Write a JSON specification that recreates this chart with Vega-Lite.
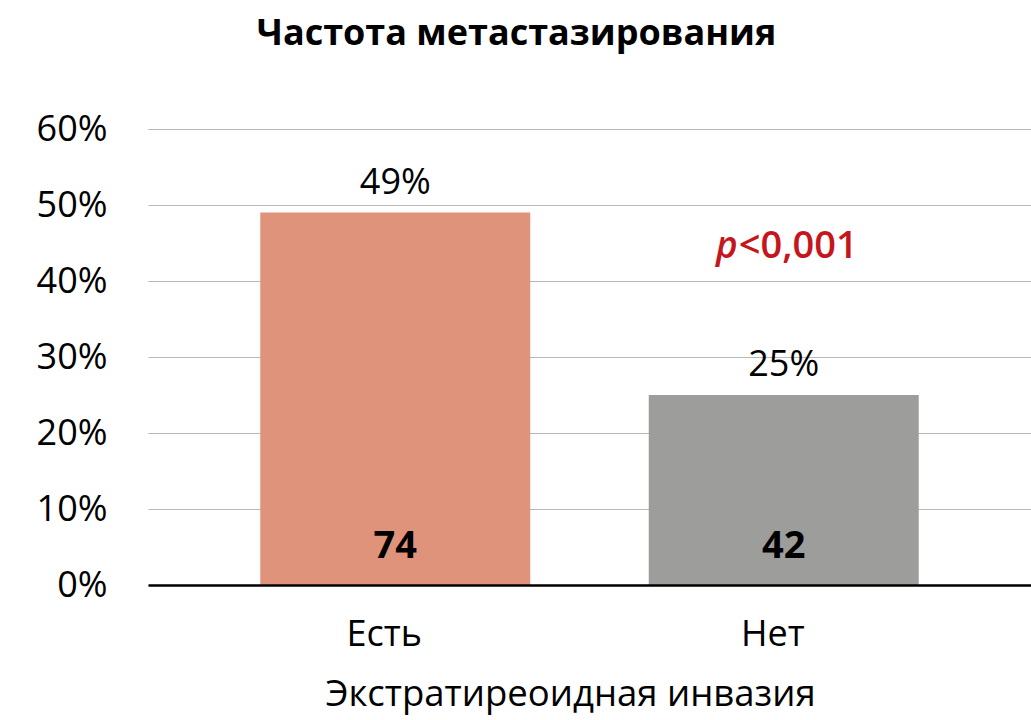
{
  "$schema": "https://vega.github.io/schema/vega-lite/v6.json",
  "width": 883,
  "height": 456,
  "autosize": "none",
  "padding": {"left": 148, "top": 129, "right": 0, "bottom": 135},
  "background": "white",
  "title": {
    "text": "Частота метастазирования",
    "font": "Open Sans",
    "fontSize": 36,
    "fontWeight": "bold",
    "color": "#000000",
    "anchor": "middle",
    "dx": -73,
    "baseline": "alphabetic",
    "offset": 30
  },
  "datasets": {
    "bars": [
      {"invasion": "Есть", "pct": 0.49, "n": 74},
      {"invasion": "Нет", "pct": 0.25, "n": 42}
    ],
    "note": [
      {"invasion": "Нет", "y": 0.43, "p": "p", "rest": "<0,001"}
    ]
  },
  "encoding": {
    "x": {
      "field": "invasion",
      "type": "nominal",
      "sort": ["Есть", "Нет"],
      "scale": {"paddingInner": 0.305, "paddingOuter": 0.289},
      "title": "Экстратиреоидная инвазия",
      "axis": {
        "labelAngle": 0,
        "labelFont": "Open Sans",
        "labelFontSize": 36,
        "labelColor": "#000000",
        "labelBaseline": "alphabetic",
        "labelPadding": 60,
        "labelOffset": -11,
        "ticks": false,
        "domainColor": "#000000",
        "domainWidth": 2.5,
        "titleFont": "Open Sans",
        "titleFontSize": 36.5,
        "titleFontWeight": "normal",
        "titleColor": "#000000",
        "titleBaseline": "alphabetic",
        "titleX": 422,
        "titleY": 120,
        "zindex": 1
      }
    }
  },
  "layer": [
    {
      "data": {"name": "bars"},
      "mark": {"type": "bar"},
      "encoding": {
        "y": {
          "field": "pct",
          "type": "quantitative",
          "scale": {"domain": [0, 0.6]},
          "title": null,
          "axis": {
            "values": [0, 0.1, 0.2, 0.3, 0.4, 0.5, 0.6],
            "format": ".0%",
            "domain": false,
            "ticks": false,
            "grid": true,
            "gridColor": "#B8B8B8",
            "gridWidth": 1.2,
            "labelFont": "Open Sans",
            "labelFontSize": 36,
            "labelColor": "#000000",
            "labelPadding": 41,
            "labelDy": 3
          }
        },
        "color": {
          "field": "invasion",
          "type": "nominal",
          "scale": {"domain": ["Есть", "Нет"], "range": ["#E0937B", "#9D9D9C"]},
          "legend": null
        }
      }
    },
    {
      "data": {"name": "bars"},
      "mark": {"type": "text", "font": "Open Sans", "fontSize": 36, "color": "#000000", "baseline": "alphabetic", "dy": -19},
      "encoding": {
        "y": {"field": "pct", "type": "quantitative"},
        "text": {"field": "pct", "type": "quantitative", "format": ".0%"}
      }
    },
    {
      "data": {"name": "bars"},
      "mark": {"type": "text", "font": "Open Sans", "fontSize": 38, "fontWeight": "bold", "color": "#000000", "baseline": "alphabetic", "dy": -27},
      "encoding": {
        "y": {"datum": 0, "type": "quantitative"},
        "text": {"field": "n", "type": "quantitative"}
      }
    },
    {
      "data": {"name": "note"},
      "mark": {"type": "text", "font": "Open Sans", "fontSize": 37, "fontWeight": 600, "fontStyle": "italic", "color": "#C5161D", "baseline": "alphabetic", "align": "right", "dx": -46},
      "encoding": {
        "y": {"field": "y", "type": "quantitative"},
        "text": {"field": "p"}
      }
    },
    {
      "data": {"name": "note"},
      "mark": {"type": "text", "font": "Open Sans", "fontSize": 38, "fontWeight": 600, "color": "#C5161D", "baseline": "alphabetic", "align": "left", "dx": -45},
      "encoding": {
        "y": {"field": "y", "type": "quantitative"},
        "text": {"field": "rest"}
      }
    }
  ],
  "config": {
    "view": {"stroke": null}
  }
}
